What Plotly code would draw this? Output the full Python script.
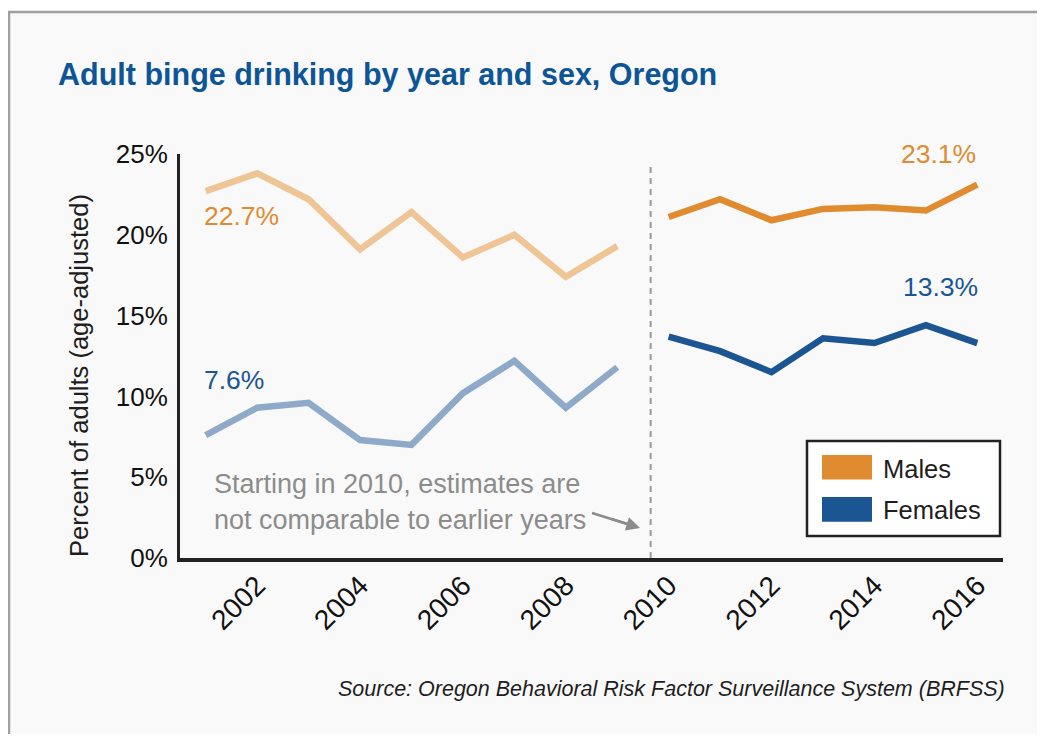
import plotly.graph_objects as go

# ---------------- data ----------------
years_before = [2001, 2002, 2003, 2004, 2005, 2006, 2007, 2008, 2009]
males_before = [22.7, 23.8, 22.2, 19.1, 21.4, 18.6, 20.0, 17.4, 19.3]
females_before = [7.6, 9.3, 9.6, 7.3, 7.0, 10.2, 12.2, 9.3, 11.8]

years_after = [2010, 2011, 2012, 2013, 2014, 2015, 2016]
males_after = [21.1, 22.2, 20.9, 21.6, 21.7, 21.5, 23.1]
females_after = [13.7, 12.8, 11.5, 13.6, 13.3, 14.4, 13.3]

tick_years = [2002, 2004, 2006, 2008, 2010, 2012, 2014, 2016]
y_ticks = [0, 5, 10, 15, 20, 25]
y_tick_labels = ["0%", "5%", "10%", "15%", "20%", "25%"]
break_year = 2009.65

title_text = "Adult binge drinking by year and sex, Oregon"
y_title = "Percent of adults (age-adjusted)"
note_lines = ["Starting in 2010, estimates are", "not comparable to earlier years"]
source_text = "Source: Oregon Behavioral Risk Factor Surveillance System (BRFSS)"
legend_names = ["Males", "Females"]

# ---------------- style ----------------
OFF = 8  # page body margin of the browser
W, H = 1045 - 2 * OFF, 742 - 2 * OFF
L, T = 172, 146
R = W - (1003 - OFF)
B = H - (558 - OFF)
PW, PH = W - L - R, H - T - B

SANS = "Liberation Sans, Arial, Helvetica, sans-serif"

ORANGE = "#e08b30"
ORANGE_LIGHT = "#efc596"
BLUE = "#1b5592"
BLUE_LIGHT = "#8eaac8"
GRAY = "#8c8c8c"
TITLE_BLUE = "#0d5596"
INK = "#1e1e1e"


def px(xp):
    """reference screen x -> paper x"""
    return (xp - OFF - L) / PW


def py(yp):
    """reference screen y -> paper y"""
    return (H - B - (yp - OFF)) / PH


fig = go.Figure()

fig.add_trace(go.Scatter(x=years_before, y=males_before, mode="lines",
                         line=dict(color=ORANGE_LIGHT, width=6.5), showlegend=False))
fig.add_trace(go.Scatter(x=years_before, y=females_before, mode="lines",
                         line=dict(color=BLUE_LIGHT, width=6.5), showlegend=False))
fig.add_trace(go.Scatter(x=years_after, y=males_after, mode="lines", name=legend_names[0],
                         line=dict(color=ORANGE, width=6.5), showlegend=False))
fig.add_trace(go.Scatter(x=years_after, y=females_after, mode="lines", name=legend_names[1],
                         line=dict(color=BLUE, width=6.5), showlegend=False))

shapes = []
# outer panel with frame
shapes.append(dict(type="rect", xref="paper", yref="paper", layer="below",
                   x0=px(9), x1=px(1045 + 20), y0=py(742 + 20), y1=py(12),
                   fillcolor="#f9f9f9", line=dict(color="#a0a0a0", width=2.5)))
# dashed break line
shapes.append(dict(type="line", xref="x", yref="y", x0=break_year, x1=break_year,
                   y0=0, y1=24.2, line=dict(color="#9a9a9a", width=2, dash="6px,5px")))
# arrow shaft
shapes.append(dict(type="line", xref="paper", yref="paper",
                   x0=px(592), y0=py(513), x1=px(637), y1=py(527),
                   line=dict(color=GRAY, width=2.5)))
# legend box
shapes.append(dict(type="rect", xref="paper", yref="paper",
                   x0=px(807), x1=px(1000), y0=py(536), y1=py(441),
                   fillcolor="white", line=dict(color="#222222", width=2.5)))
shapes.append(dict(type="rect", xref="paper", yref="paper",
                   x0=px(822), x1=px(872), y0=py(479.5), y1=py(455),
                   fillcolor=ORANGE, line=dict(width=0)))
shapes.append(dict(type="rect", xref="paper", yref="paper",
                   x0=px(822), x1=px(872), y0=py(521.7), y1=py(497),
                   fillcolor=BLUE, line=dict(width=0)))

annotations = []
# title
annotations.append(dict(text="<b>" + title_text + "</b>", xref="paper", yref="paper",
                        x=px(56), y=py(74), xanchor="left", yanchor="middle", showarrow=False,
                        font=dict(family=SANS, size=30.5, color=TITLE_BLUE)))
# y axis title
annotations.append(dict(text=y_title, xref="paper", yref="paper", textangle=-90,
                        x=px(79), y=py(376), xanchor="center", yanchor="middle", showarrow=False,
                        font=dict(family=SANS, size=25.5, color=INK)))
# value labels
annotations.append(dict(text=f"{males_before[0]}%", x=years_before[0], y=males_before[0],
                        xanchor="left", yanchor="middle", xshift=-4, yshift=-25, showarrow=False,
                        font=dict(family=SANS, size=26.5, color=ORANGE)))
annotations.append(dict(text=f"{females_before[0]}%", x=years_before[0], y=females_before[0],
                        xanchor="left", yanchor="middle", xshift=-4, yshift=55, showarrow=False,
                        font=dict(family=SANS, size=26.5, color=BLUE)))
annotations.append(dict(text=f"{males_after[-1]}%", x=years_after[-1], y=males_after[-1],
                        xanchor="right", yanchor="middle", xshift=1, yshift=31, showarrow=False,
                        font=dict(family=SANS, size=26.5, color=ORANGE)))
annotations.append(dict(text=f"{females_after[-1]}%", x=years_after[-1], y=females_after[-1],
                        xanchor="right", yanchor="middle", xshift=3, yshift=56, showarrow=False,
                        font=dict(family=SANS, size=26.5, color=BLUE)))
# note
annotations.append(dict(text=note_lines[0], xref="paper", yref="paper", x=px(212), y=py(484),
                        xanchor="left", yanchor="middle", showarrow=False,
                        font=dict(family=SANS, size=27, color=GRAY)))
annotations.append(dict(text=note_lines[1], xref="paper", yref="paper", x=px(212), y=py(520),
                        xanchor="left", yanchor="middle", showarrow=False,
                        font=dict(family=SANS, size=27, color=GRAY)))
# arrow head
annotations.append(dict(text="", xref="paper", yref="paper", x=px(640), y=py(528),
                        ax=-30, ay=-9.5, axref="pixel", ayref="pixel",
                        showarrow=True, arrowhead=2, arrowsize=1.1, arrowwidth=2.5,
                        arrowcolor=GRAY, standoff=0))
# legend labels
annotations.append(dict(text=legend_names[0], xref="paper", yref="paper", x=px(881), y=py(468.5),
                        xanchor="left", yanchor="middle", showarrow=False,
                        font=dict(family=SANS, size=25.5, color=INK)))
annotations.append(dict(text=legend_names[1], xref="paper", yref="paper", x=px(881), y=py(510),
                        xanchor="left", yanchor="middle", showarrow=False,
                        font=dict(family=SANS, size=25.5, color=INK)))
# source
annotations.append(dict(text="<i>" + source_text + "</i>", xref="paper", yref="paper",
                        x=px(1007), y=py(689), xanchor="right", yanchor="middle", showarrow=False,
                        font=dict(family=SANS, size=21.5, color=INK)))

fig.update_layout(
    width=W, height=H,
    margin=dict(l=L, r=R, t=T, b=B, autoexpand=False),
    paper_bgcolor="white",
    plot_bgcolor="rgba(0,0,0,0)",
    showlegend=False,
    shapes=shapes,
    annotations=annotations,
    xaxis=dict(range=[2000.5, 2016.5], tickmode="array", tickvals=tick_years,
               ticktext=[str(y) for y in tick_years], tickangle=-45,
               showgrid=False, zeroline=False, showline=True, linecolor="#222222", linewidth=4,
               ticks="", ticklabelstandoff=-4,
               tickfont=dict(family=SANS, size=28, color="#111111")),
    yaxis=dict(range=[0, 25], tickmode="array", tickvals=y_ticks, ticktext=y_tick_labels,
               showgrid=False, zeroline=False, showline=True, linecolor="#222222", linewidth=3,
               ticks="", ticklabelstandoff=4,
               tickfont=dict(family=SANS, size=26, color="#111111")),
)

fig.write_html("out.html")
